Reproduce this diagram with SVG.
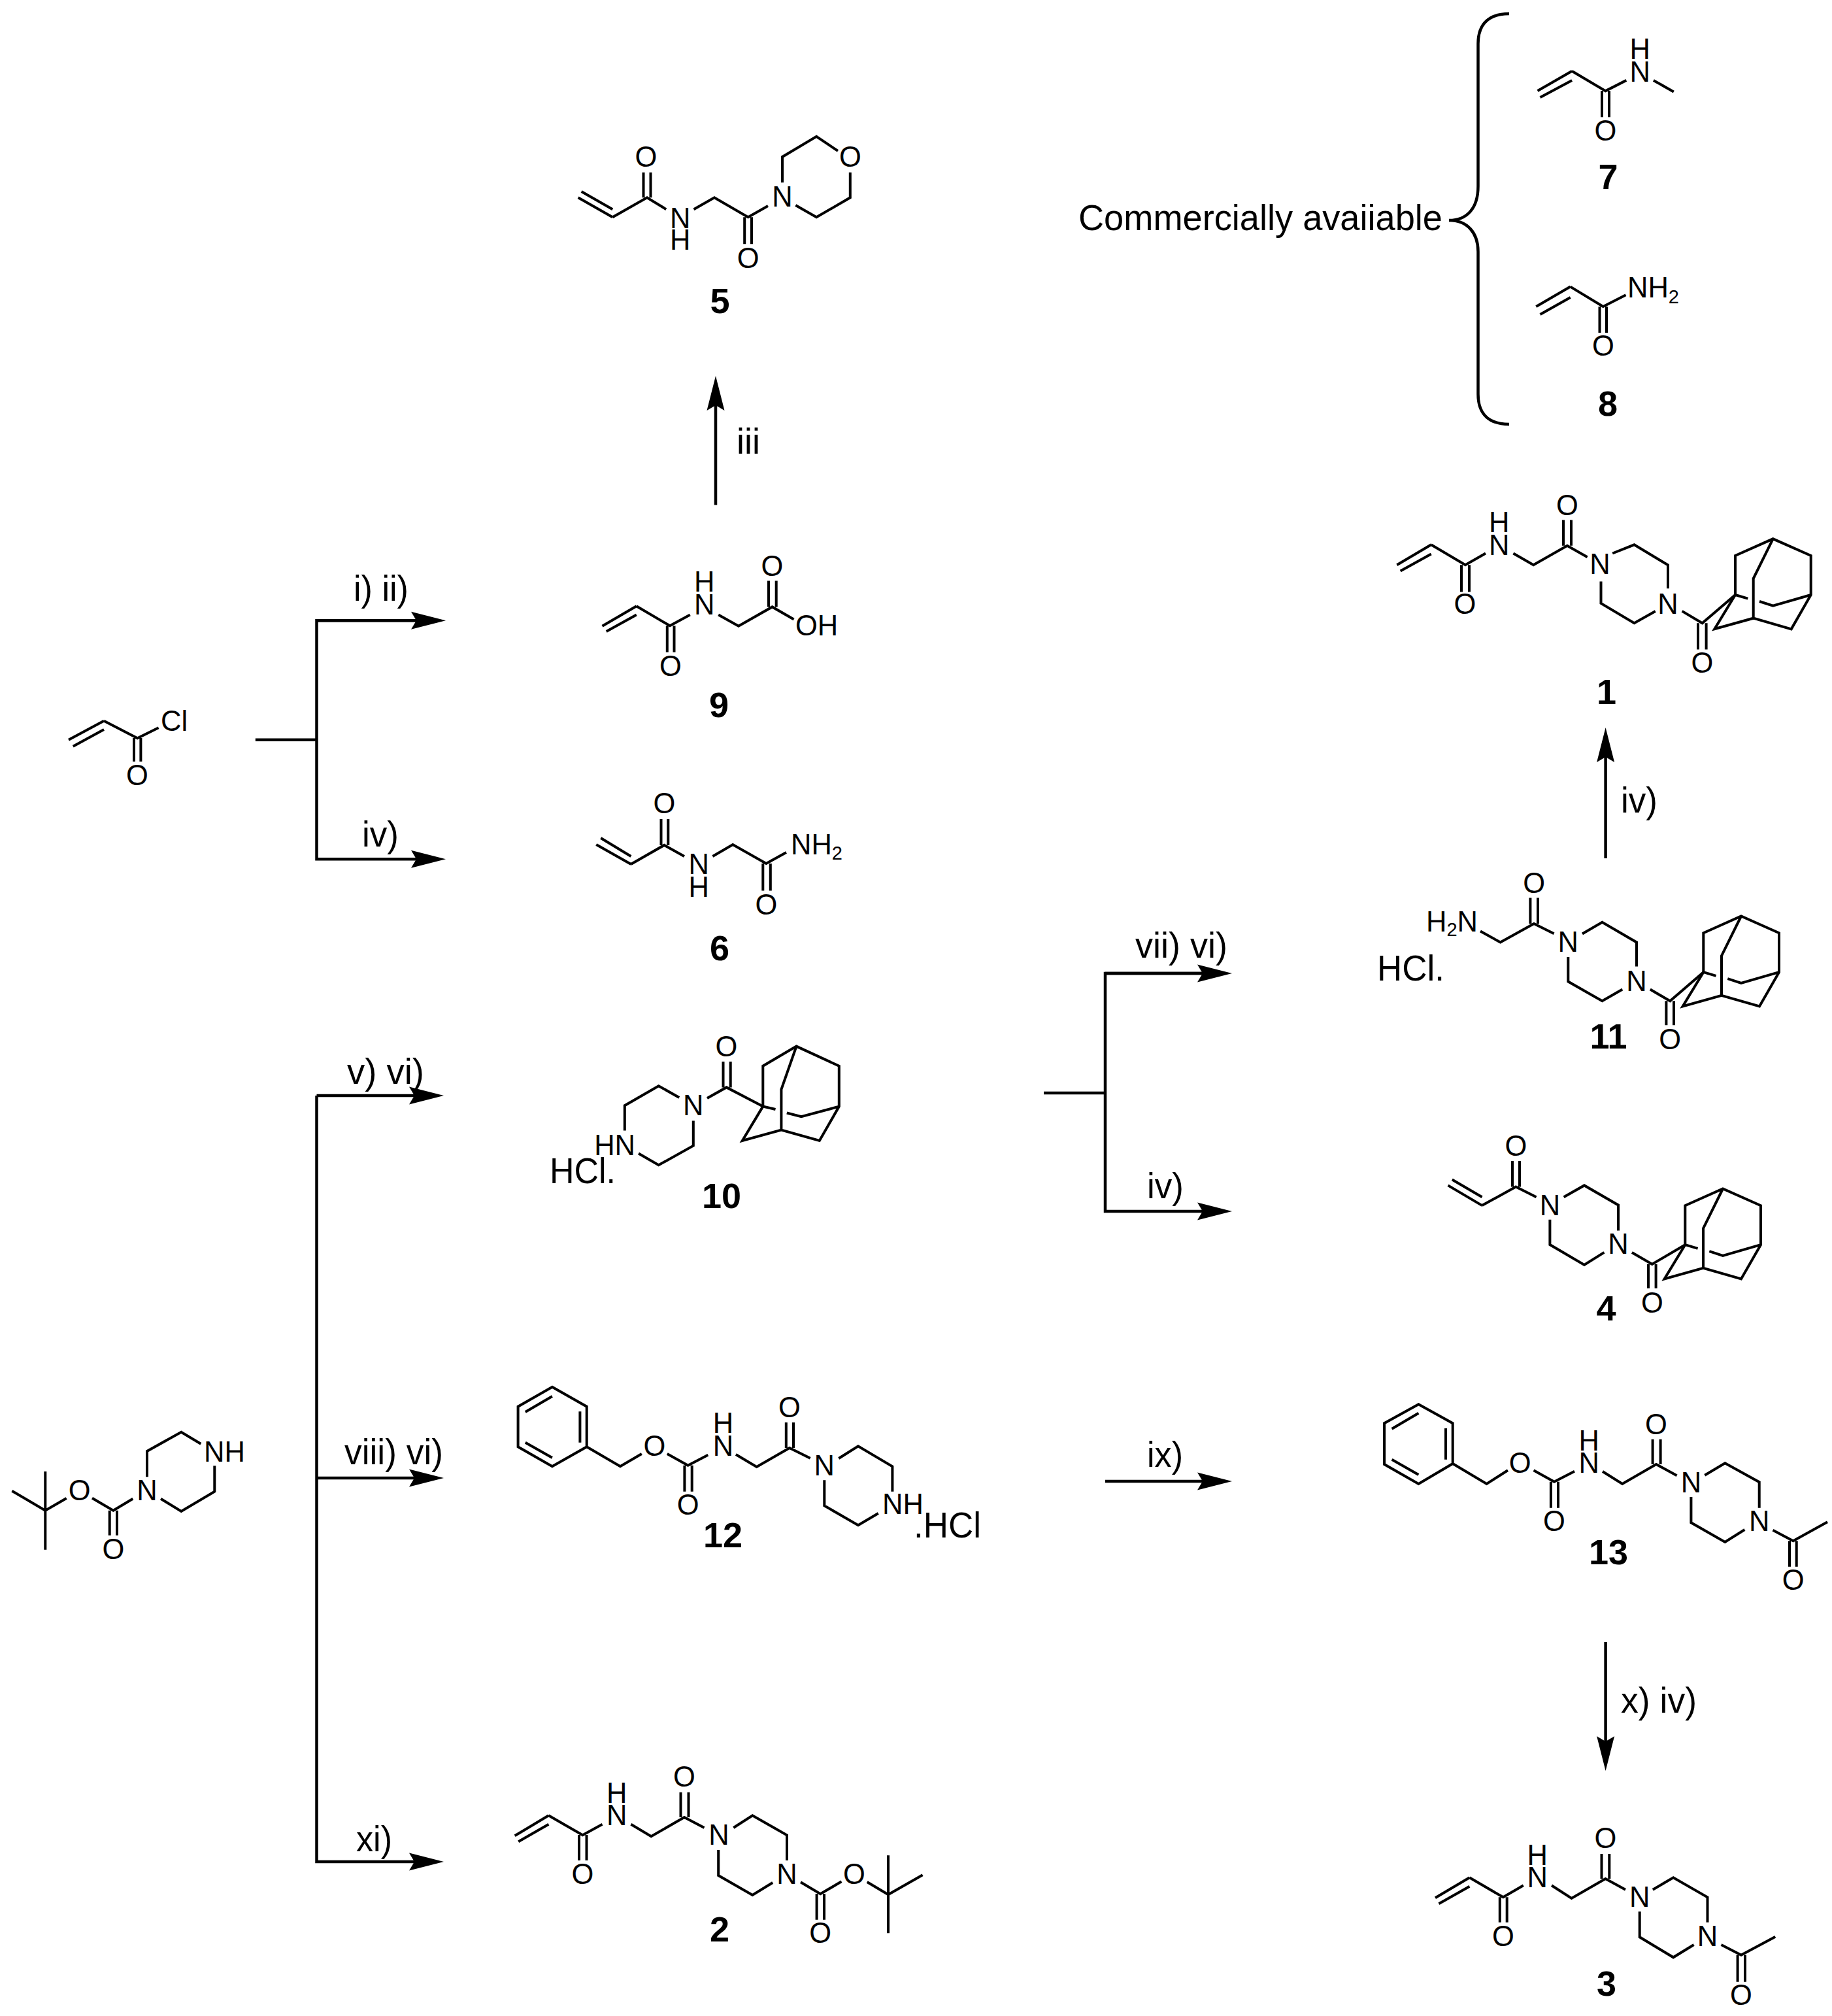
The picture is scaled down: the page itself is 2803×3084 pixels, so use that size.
<svg xmlns="http://www.w3.org/2000/svg" xmlns:xlink="http://www.w3.org/1999/xlink" width="2803" height="3084" viewBox="0 0 2803 3084">
<style>
text{font-family:"Liberation Sans",Arial,sans-serif;fill:#000}
.a{font-size:43.5px;text-anchor:middle;transform:translateY(-1px)}
.s{font-size:43.5px;transform:translateY(-1px)}
.e{font-size:43.5px;text-anchor:end;transform:translateY(-1px)}
.sub{font-size:29px}
.n{font-size:54px;font-weight:bold;text-anchor:middle}
.r{font-size:55px}
.h{font-size:56px}
.b{fill:none;stroke:#000;stroke-width:4;stroke-linejoin:miter;stroke-linecap:butt}
.c{fill:none;stroke:#000;stroke-width:4.5;stroke-linejoin:miter}
</style>
<defs>
<marker id="arr" markerUnits="userSpaceOnUse" markerWidth="54" markerHeight="28" refX="33" refY="14" orient="auto"><path d="M0 0.5L53 14L0 27.5L8 14Z" fill="#000"/></marker>
<path id="adam" class="b" d="M-57.7 85.7V25.7L0 0L58 25.7V85.7L28 138L-30 121.4L-89.4 138L-57.7 85.7M0 0L-30 60.7V121.4M58 85.7L0 102.4L-20.7 95.7M-38.4 91.4L-57.7 85.7"/>
</defs>
<rect width="2803" height="3084" fill="#fff"/>

<g id="connectors">
<path class="c" d="M390.8 1131.7H484.5"/>
<path class="c" d="M662 949.3H484.5V1314.3H662" marker-end="url(#arr)"/>
<path class="c" d="M484.5 949.3H662" marker-end="url(#arr)"/>
<path class="c" d="M484.5 1676H659" marker-end="url(#arr)"/>
<path class="c" d="M484.5 1676V2848H659" marker-end="url(#arr)"/>
<path class="c" d="M484.5 2261H659" marker-end="url(#arr)"/>
<path class="c" d="M1095 772.6V595" marker-end="url(#arr)"/>
<path class="c" d="M1597 1672H1691"/>
<path class="c" d="M1865 1489H1691V1853H1865" marker-end="url(#arr)"/>
<path class="c" d="M1691 1489H1865" marker-end="url(#arr)"/>
<path class="c" d="M1691 2266H1865" marker-end="url(#arr)"/>
<path class="c" d="M2456.6 1313V1133" marker-end="url(#arr)"/>
<path class="c" d="M2456.6 2512V2689" marker-end="url(#arr)"/>
<path id="brace" class="c" d="M2309 21C2280 21 2261.5 35 2261.5 67V285C2261.5 318 2245 337 2217 337C2245 337 2261.5 356 2261.5 385V603C2261.5 635 2280 649 2309 649"/>
</g>

<g id="reagents">
<text class="r" x="541" y="919" textLength="84" lengthAdjust="spacingAndGlyphs">i) ii)</text>
<text class="r" x="554" y="1295" textLength="56" lengthAdjust="spacingAndGlyphs">iv)</text>
<text class="r" x="1127" y="693.5" textLength="36" lengthAdjust="spacingAndGlyphs">iii</text>
<text class="r" x="531" y="1658" textLength="118" lengthAdjust="spacingAndGlyphs">v) vi)</text>
<text class="r" x="527" y="2240" textLength="151" lengthAdjust="spacingAndGlyphs">viii) vi)</text>
<text class="r" x="545" y="2832" textLength="55" lengthAdjust="spacingAndGlyphs">xi)</text>
<text class="r" x="1737" y="1465" textLength="141" lengthAdjust="spacingAndGlyphs">vii) vi)</text>
<text class="r" x="1755" y="1833" textLength="56" lengthAdjust="spacingAndGlyphs">iv)</text>
<text class="r" x="1755" y="2244" textLength="55" lengthAdjust="spacingAndGlyphs">ix)</text>
<text class="r" x="2480" y="1243" textLength="56" lengthAdjust="spacingAndGlyphs">iv)</text>
<text class="r" x="2480" y="2620" textLength="116" lengthAdjust="spacingAndGlyphs">x) iv)</text>
<text class="r" x="1650" y="352" textLength="557" lengthAdjust="spacingAndGlyphs">Commercially avaiiable</text>
</g>

<g id="acryloyl-chloride">
<path class="b" d="M105 1131.7L159 1102.7M111.8 1141.7L159 1116M159 1102.7L210.3 1129.3L242.6 1113.3M205 1129V1165M215.4 1129V1165"/>
<text class="s" x="246" y="1119">Cl</text>
<text class="a" x="210" y="1201.7">O</text>
</g>

<g id="boc-piperazine">
<path class="b" d="M69.3 2251V2370.7M18.3 2280.7L69.3 2310.7L101.7 2292M141 2291.7L173.3 2310.7L203.3 2292.7M167.7 2310.7V2348.7M179 2310.7V2348.7M225 2259.3V2220L277.3 2190.7L307.3 2208.7M328.3 2242.3V2281.7L277.3 2312L246 2292.7"/>
<text class="a" x="121.7" y="2296">O</text>
<text class="a" x="173.3" y="2385.7">O</text>
<text class="a" x="225" y="2296">N</text>
<text class="s" x="312" y="2236.7">NH</text>
</g>

<g id="compound-5">
<path class="b" d="M884.6 302.3L937.3 332.3M889.6 293L937.3 320.2M937.3 332.3L990 302.3L1019.2 320.2M984.5 302.3V263.7M995.5 302.3V263.7M1061.5 320.2L1093 302.3L1144.6 332.3L1175 315M1139.2 332.3V373.3M1150 332.3V373.3M1197 279.3V240L1249.2 208.9L1282 230.8M1300.8 263.7V302.3L1249.2 332.3L1217.3 313.9"/>
<text class="a" x="988.5" y="255.6">O</text>
<text class="a" x="1040.8" y="349.6">N</text>
<text class="a" x="1040.8" y="382.5">H</text>
<text class="a" x="1144.6" y="411.4">O</text>
<text class="a" x="1197" y="317.3">N</text>
<text class="a" x="1300.8" y="255.6">O</text>
<text class="n" x="1101.5" y="479">5</text>
</g>

<g id="compound-9">
<path class="b" d="M921.5 957.8L973.8 927.3M927.7 966L973.8 940.5M973.8 927.3L1025 957.3L1055.8 940.5M1020.8 957.3V997.7M1031.5 957.3V997.7M1099.2 940.5L1130 957.8L1181.5 928.4L1214.6 947.4M1176 928.4V888.6M1187.7 928.4V888.6"/>
<text class="a" x="1025.8" y="1034.6">O</text>
<text class="a" x="1077.7" y="940.5">N</text>
<text class="a" x="1077.7" y="905.9">H</text>
<text class="a" x="1181.5" y="881.7">O</text>
<text class="s" x="1217" y="973">OH</text>
<text class="n" x="1100" y="1097">9</text>
</g>

<g id="compound-6">
<path class="b" d="M912.3 1292L965.4 1322M919.2 1282L965.4 1310M965.4 1322L1016.2 1292.9L1047 1310M1011.5 1293V1253M1022.3 1293V1253M1090.4 1310L1121.2 1292L1172.3 1321L1203 1304M1167.3 1321V1362.4M1178.8 1321V1362.4"/>
<text class="a" x="1016.5" y="1245">O</text>
<text class="a" x="1069.2" y="1338.4">N</text>
<text class="a" x="1069.2" y="1373">H</text>
<text class="a" x="1172.3" y="1399.8">O</text>
<text class="s" x="1210" y="1307.7">NH<tspan class="sub" dy="8">2</tspan></text>
<text class="n" x="1101" y="1469">6</text>
</g>

<g id="compound-10">
<path class="b" d="M1106.5 1624V1663.4M1117.7 1624V1663.4M1082 1680L1111.5 1663.4L1167.3 1692.6M1039.2 1679L1007.7 1661.2L955.8 1691.2V1729.4M977 1764.4L1007.7 1782.3L1060.8 1752.7V1714.6"/>
<path class="b" d="M1167.3 1692.6V1630.7L1218.5 1600.6L1283.8 1630.7V1692.6L1253.8 1745L1195.4 1728.5L1135.8 1745L1167.3 1692.6L1186.5 1697M1203.8 1702.5L1226 1708.3L1283.8 1692.6M1218.5 1600.6L1195.4 1666.6V1728.5"/>
<text class="a" x="1111.5" y="1617.4">O</text>
<text class="a" x="1060.8" y="1707">N</text>
<text class="e" x="972" y="1768">HN</text>
<text class="h" x="841" y="1810" textLength="101" lengthAdjust="spacingAndGlyphs">HCl.</text>
<text class="n" x="1104" y="1848">10</text>
</g>

<g id="compound-12">
<path class="b" d="M844.9 2121.7L897.7 2151.7V2213.3L844.9 2243.3L792.6 2213.3V2151.7ZM844.9 2136L803.8 2160M887.4 2159.3V2206.7M803.8 2206.7L844.9 2230M897.7 2213.3L949 2243.3L981.8 2224M1020.8 2224L1052.6 2241.7L1083.3 2225.7M1047.4 2241.7V2281.7M1058.7 2241.7V2281.7M1125.9 2225L1157.7 2244L1208 2215L1239.7 2230.7M1202.8 2215V2176M1214 2215V2176M1283.3 2231L1313 2212.3L1365.4 2243.3V2281.7M1343.8 2315L1313 2333.3L1261.3 2303.3V2264.3"/>
<text class="a" x="1001.3" y="2227.7">O</text>
<text class="a" x="1052.6" y="2317.7">O</text>
<text class="a" x="1106.4" y="2228.3">N</text>
<text class="a" x="1106.4" y="2193.3">H</text>
<text class="a" x="1208" y="2169">O</text>
<text class="a" x="1261.3" y="2258.3">N</text>
<text class="s" x="1350" y="2317">NH</text>
<text class="h" x="1398" y="2351.7" textLength="103" lengthAdjust="spacingAndGlyphs">.HCl</text>
<text class="n" x="1106" y="2367">12</text>
</g>

<g id="compound-2">
<path class="b" d="M787.7 2808.3L839.4 2777.3M793.2 2817.3L839.4 2790.7M839.4 2777.3L891.5 2807.3L921.5 2790.7M886 2807V2846M897.5 2807V2846M965.4 2790.7L996.3 2809.3L1047 2780L1077.5 2796M1041.5 2780V2741.7M1053.5 2780V2741.7M1122.3 2796L1151.3 2777.3L1204 2807.3V2846M1182.2 2880L1151.3 2899L1099.2 2869V2830M1225 2879.3L1255.2 2897.3L1287.5 2878.3M1326.7 2879L1359 2898.3M1359 2838.3V2957.3M1359 2898.3L1411.6 2868.3M1249.6 2897V2936.7M1261 2897V2936.7"/>
<text class="a" x="891.5" y="2883.3">O</text>
<text class="a" x="943.7" y="2793.3">N</text>
<text class="a" x="943.7" y="2759">H</text>
<text class="a" x="1047" y="2734.3">O</text>
<text class="a" x="1100" y="2823.3">N</text>
<text class="a" x="1204" y="2883.3">N</text>
<text class="a" x="1306.8" y="2883.3">O</text>
<text class="a" x="1255.2" y="2973.3">O</text>
<text class="n" x="1101" y="2970">2</text>
</g>

<g id="compound-7" transform="translate(-4.5 -0.5)">
<path class="b" d="M2357 139.6L2409.6 109.3M2361 149.5L2409.6 123.4M2409.6 109.3L2461 139.6L2492.8 123.4M2455.5 139.6V179.8M2466.5 139.6V179.8M2534.4 123.4L2565.3 141"/>
<text class="a" x="2513.6" y="126.4">N</text>
<text class="a" x="2513.6" y="91">H</text>
<text class="a" x="2461" y="216">O</text>
<text class="n" x="2465" y="289.5">7</text>
</g>

<g id="compound-8" transform="translate(-3 0)">
<path class="b" d="M2353.3 469L2405.7 438.6M2359.5 481L2405.7 454.9M2405.7 438.6L2455.8 469L2490.5 451.3M2450.5 469V509M2461 469V509"/>
<text class="s" x="2493" y="456">NH<tspan class="sub" dy="9">2</tspan></text>
<text class="a" x="2455.8" y="545.3">O</text>
<text class="n" x="2463" y="636">8</text>
</g>

<g id="compound-1" transform="translate(-4 -4.5)">
<path class="b" d="M2141.3 868.8L2193.7 837.8M2146.7 878L2193.7 852M2193.7 837.8L2246 868.8L2277 851M2240 868.8V910M2252 868.8V910M2319.4 851L2350.2 868.8L2401.9 839.2L2432.7 856.8M2396 839.2V800M2408 839.2V800M2471.2 851L2504.4 837.8L2556 868.8V904.8M2536.8 939.4L2504.4 957.7L2453.5 927.4V894M2577.6 939.4L2608.5 957.7L2659 914.5M2602 957.7V998M2614.6 957.7V998"/>
<use xlink:href="#adam" href="#adam" x="2716.7" y="828.8"/>
<text class="a" x="2245.3" y="944.5">O</text>
<text class="a" x="2297.8" y="854.2">N</text>
<text class="a" x="2297.8" y="819">H</text>
<text class="a" x="2401.9" y="793">O</text>
<text class="a" x="2452" y="883.8">N</text>
<text class="a" x="2556" y="944.5">N</text>
<text class="a" x="2608.5" y="1034">O</text>
<text class="n" x="2462" y="1081">1</text>
</g>

<g id="compound-11" transform="translate(-3 -1.5)">
<path class="b" d="M2268 1426L2298.6 1443L2350 1414.4L2380.6 1429.7M2344.4 1414.4V1375M2356 1414.4V1375M2424 1430L2454.4 1412.3L2507 1443V1480M2485.3 1515L2454.4 1532.8L2402.3 1503V1465.6M2527.8 1515L2558.2 1532.8L2609.3 1488.7M2552.4 1532.8V1569.7M2564 1532.8V1569.7"/>
<use xlink:href="#adam" href="#adam" x="2667" y="1403"/>
<text class="e" x="2264" y="1427">H<tspan class="sub" dy="7">2</tspan><tspan dy="-7">N</tspan></text>
<text class="a" x="2350.2" y="1368.3">O</text>
<text class="a" x="2402.3" y="1458">N</text>
<text class="a" x="2507" y="1518">N</text>
<text class="a" x="2558.2" y="1607.8">O</text>
<text class="n" x="2464" y="1605.6">11</text>
</g>
<text id="hcl-11" class="h" x="2107" y="1499.5" textLength="103" lengthAdjust="spacingAndGlyphs">HCl.</text>

<g id="compound-4" transform="translate(-1 -1.5)">
<path class="b" d="M2216.5 1814.9L2268.6 1845.6M2222.8 1806L2268.6 1832.8M2268.6 1845.6L2320.3 1817L2351.6 1832.8M2315 1817V1777.4M2326 1817V1777.4M2393.6 1832.8L2425 1814.9L2477 1845V1884M2455.4 1917.4L2425 1936.4L2372.4 1905.6V1867.2M2497.9 1917.4L2528.8 1935.4L2579.3 1905.7M2523 1935.4V1972.3M2534.6 1935.4V1972.3"/>
<use xlink:href="#adam" href="#adam" x="2637" y="1820"/>
<text class="a" x="2320.3" y="1770.9">O</text>
<text class="a" x="2372.4" y="1861.7">N</text>
<text class="a" x="2477" y="1920.6">N</text>
<text class="a" x="2528.8" y="2010.4">O</text>
<text class="n" x="2458.5" y="2021">4</text>
</g>

<g id="compound-13">
<path class="b" d="M2170.4 2148.3L2222.7 2177.3V2239L2170.4 2270L2118 2240V2177.3ZM2170.4 2161.7L2129.6 2185.7M2212 2185V2232.7M2129.6 2232.7L2170.4 2256M2222.7 2239L2274.6 2270L2307 2249.3M2346.5 2249.3L2378 2266.7L2409 2250.7M2372.9 2266.7V2306.7M2384 2266.7V2306.7M2452 2251L2482.2 2270L2534 2240L2565.6 2257.3M2528.6 2240V2201.7M2540.6 2240V2201.7M2608.3 2256.7L2639.3 2238.3L2691.7 2267.3V2306.7M2669.4 2340L2639.3 2359L2587.4 2329.3V2290M2712.5 2340.7L2743.6 2357.3L2796 2328.3M2738 2357.3V2396.7M2748.7 2357.3V2396.7"/>
<text class="a" x="2325.6" y="2254">O</text>
<text class="a" x="2378" y="2343.3">O</text>
<text class="a" x="2431.3" y="2254.3">N</text>
<text class="a" x="2431.3" y="2220">H</text>
<text class="a" x="2534" y="2195">O</text>
<text class="a" x="2587.4" y="2284">N</text>
<text class="a" x="2691.7" y="2343.3">N</text>
<text class="a" x="2743.6" y="2433.3">O</text>
<text class="n" x="2461" y="2393">13</text>
</g>

<g id="compound-3">
<path class="b" d="M2196 2903.3L2248.4 2872.3M2201.5 2912.3L2248.4 2885.7M2248.4 2872.3L2299.9 2902.3L2330.8 2884.3M2294.8 2902.3V2940.7M2305.7 2902.3V2940.7M2374 2884.3L2404.5 2904L2456.4 2874L2487 2890.7M2450.5 2874V2836M2462.3 2874V2836M2528.8 2890.7L2560.2 2872.3L2612.5 2902.3V2940.7M2591.6 2975L2560.2 2994.3L2508.7 2963.3V2924.3M2633.5 2975L2664 2990.7L2716.3 2962.7M2658.6 2990.7V3031.7M2670 2990.7V3031.7"/>
<text class="a" x="2299.9" y="2977.7">O</text>
<text class="a" x="2352.2" y="2888.3">N</text>
<text class="a" x="2352.2" y="2854">H</text>
<text class="a" x="2456.4" y="2828.3">O</text>
<text class="a" x="2508.7" y="2917.7">N</text>
<text class="a" x="2612.5" y="2977.7">N</text>
<text class="a" x="2664" y="3068.3">O</text>
<text class="n" x="2458" y="3053">3</text>
</g>
</svg>
